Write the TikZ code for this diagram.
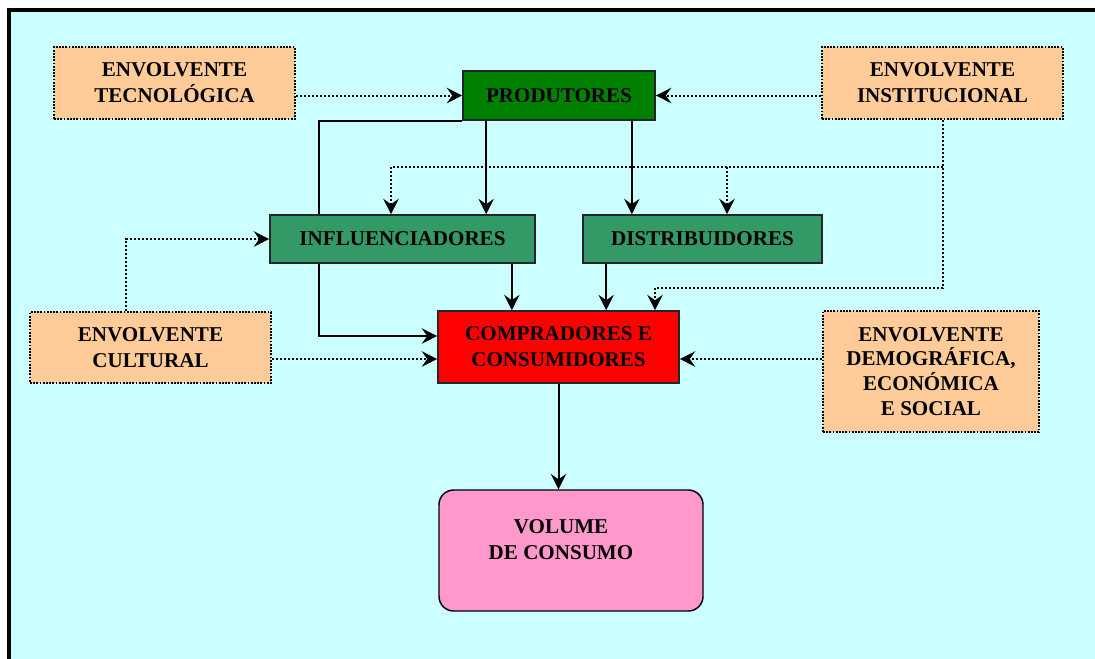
\documentclass[tikz,border=0pt]{standalone}
\usepackage{fontspec}
\setmainfont{Liberation Serif}
\usetikzlibrary{arrows.meta,calc}

\definecolor{bgcyan}{HTML}{CCFFFF}
\definecolor{envorange}{HTML}{FFCC99}
\definecolor{prodgreen}{HTML}{008000}
\definecolor{seagreen}{HTML}{339966}
\definecolor{volpink}{HTML}{FF99CC}

\pgfdeclarelayer{backdrop}
\pgfdeclarelayer{under}
\pgfsetlayers{backdrop,under,main}

\tikzset{
  lbl/.style={font=\fontsize{15.8}{19.5}\selectfont\bfseries, align=center, text=black},
  envbox/.style={lbl, draw=black, fill=envorange, line width=1.3pt,
                 dash pattern=on 1.3pt off 1.1pt, inner sep=0pt},
  actor/.style={lbl, draw=black!85, line width=1.2pt, inner sep=0pt},
  tipshape/.style={-{Stealth[length=11.5pt,width=11.5pt,inset=4pt]}},
  conn/.style={line width=1.5pt, tipshape},
  dotline/.style={line width=1.5pt, dash pattern=on 1.5pt off 1.5pt},
  dotconn/.style={dotline, tipshape},
}

\begin{document}
\begin{tikzpicture}[x=0.75pt,y=-0.75pt]
\useasboundingbox (0,0) rectangle (1095,658);

% page and frame (fills run past the page edge so no sliver is left)
\begin{pgfonlayer}{backdrop}
  \fill[white] (-20,-20) rectangle (1120,680);
  \fill[bgcyan] (9,10) rectangle (1120,680);
  \draw[line width=2.8pt] (9,690) -- (9,10) -- (1120,10);
\end{pgfonlayer}

% boxes
\node[envbox, minimum width=180.75pt, minimum height=54pt] (tec) at (174.5,83) {ENVOLVENTE\\TECNOLÓGICA};
\node[envbox, minimum width=180.75pt, minimum height=54pt] (inst) at (942.5,83) {ENVOLVENTE\\INSTITUCIONAL};
\node[actor, fill=prodgreen, minimum width=144pt, minimum height=36.75pt] (prod) at (559,95.5) {PRODUTORES};
\node[actor, fill=seagreen, minimum width=198.75pt, minimum height=36pt] (infl) at (402.5,239) {INFLUENCIADORES};
\node[actor, fill=seagreen, minimum width=179.25pt, minimum height=36pt] (dist) at (702.5,239) {DISTRIBUIDORES};
\node[actor, fill=red, minimum width=180.75pt, minimum height=54pt] (comp) at (558.5,347) {COMPRADORES E\\CONSUMIDORES};
\node[envbox, minimum width=180.75pt, minimum height=53.25pt] (cult) at (150.5,347.5) {ENVOLVENTE\\CULTURAL};
\node[envbox, minimum width=162pt, minimum height=90.75pt,
      font=\fontsize{15.8}{18.6}\selectfont\bfseries] (demo) at (931,371.5)
      {ENVOLVENTE\\DEMOGRÁFICA,\\ECONÓMICA\\E SOCIAL};
\node[draw=black, fill=volpink, rounded corners=11pt, line width=1.1pt,
      minimum width=198pt, minimum height=90.75pt] (vol) at (571,550.5) {};
\node[lbl] (volt) at (561,540) {VOLUME\\DE CONSUMO};

% helper points for the routed connectors
\coordinate (loop) at (319,336);
\coordinate (hl) at (391,167);
\coordinate (hm) at (727,167);
\coordinate (hr) at (942.5,167);
\coordinate (jc) at (655,288);
\coordinate (low) at (0,359);
\coordinate (pa) at ($(prod.south west)+(24,0)$);
\coordinate (pb) at ($(prod.south east)+(-24,0)$);
\coordinate (ia) at ($(infl.south east)+(-24,0)$);
\coordinate (da) at ($(dist.south west)+(24,0)$);
\coordinate (ca) at ($(cult.north)+(-24.5,0)$);

% producers' direct line to buyers, passing behind the influencers box
\begin{pgfonlayer}{under}
  \draw[conn] (prod.south west) -| (loop) -- (loop -| comp.west);
\end{pgfonlayer}

% environment influences (dotted)
\draw[dotconn] (tec.east |- prod.west) -- (prod.west);
\draw[dotconn] (inst.west |- prod.east) -- (prod.east);
\draw[dotconn] (inst.south) |- (jc) -- (jc |- comp.north);
\draw[dotline] (hr) -- (hl);
\draw[dotconn] (hl) -- (hl |- infl.north);
\draw[dotconn] (hm) -- (hm |- dist.north);
\draw[dotconn] (ca) |- (infl.west);
\draw[dotconn] (cult.east |- low) -- (comp.west |- low);
\draw[dotconn] (demo.west |- low) -- (comp.east |- low);

% supply chain (solid)
\draw[conn] (pa) -- (pa |- infl.north);
\draw[conn] (pb) -- (pb |- dist.north);
\draw[conn] (ia) -- (ia |- comp.north);
\draw[conn] (da) -- (da |- comp.north);
\draw[conn] (comp.south) -- (comp.south |- vol.north);
\end{tikzpicture}
\end{document}
